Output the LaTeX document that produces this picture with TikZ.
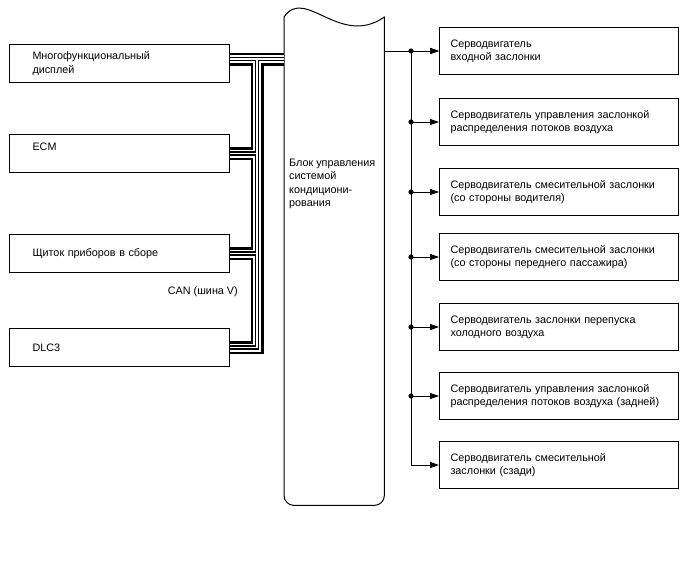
\documentclass[tikz,border=0pt]{standalone}
\usepackage{fontspec}
\setmainfont{Liberation Sans}
\usetikzlibrary{arrows.meta}

\begin{document}
\begin{tikzpicture}[x=1pt,y=-1pt,font=\fontsize{10.8}{13.3}\selectfont,line cap=round,
  unitbox/.style={draw,line width=1pt,rectangle,inner ysep=0pt,align=left,anchor=north west},
  leftbox/.style={unitbox,minimum height=38pt,inner xsep=23pt,text width=174pt},
  rightbox/.style={unitbox,minimum height=47pt,inner xsep=11pt,text width=217pt},
  conn/.style={line width=0.8pt,-{Triangle[length=9pt,width=6pt]}},
  cable/.style={draw=white,line width=1.6pt,line cap=butt,
    preaction={draw=black,line width=13pt,line cap=butt},
    preaction={draw=white,line width=8pt,line cap=butt},
    preaction={draw=black,line width=4.4pt,line cap=butt}}]
  \useasboundingbox (0,0) rectangle (688,560);
  % CAN nodes
  \node[leftbox] (mfd) at (9,44) {Многофункциональный\\дисплей};
  \node[leftbox] (ecm) at (9,134) {ECM\\~};
  \node[leftbox] (kombi) at (9,234) {Щиток приборов в сборе};
  \node[leftbox] (dlc) at (9,328) {DLC3};
  \node[anchor=east,inner sep=0pt] (canlbl) at (238,292) {CAN (шина V)};
  % air conditioning ECU
  \node[minimum width=100pt,minimum height=488pt,inner sep=0pt,anchor=north west] (ecu) at (284,17) {};
  \draw[line width=1pt,rounded corners=10pt] (ecu.north west) -- (ecu.south west) -- (ecu.south east) -- (ecu.north east);
  \draw[line width=1pt] (ecu.north west) .. controls (305,-14) and (340,48) .. (ecu.north east);
  \node[anchor=north west,align=left,inner sep=0pt] (ecutext) at (289,159)
    {Блок управления\\системой\\кондициони-\\рования};
  % bus lines
  \coordinate (bus) at (257,59);
  \draw[cable] (mfd.east |- bus) -- (ecu.west |- bus)
    (bus) -- (bus |- dlc.east) -- (dlc.east)
    (ecm.east) -- (ecm.east -| bus)
    (kombi.east) -- (kombi.east -| bus);
  % servo motors
  \node[rightbox] (r1) at (439,27) {Серводвигатель\\входной заслонки};
  \node[rightbox] (r2) at (439,98) {Серводвигатель управления заслонкой\\распределения потоков воздуха};
  \node[rightbox] (r3) at (439,168) {Серводвигатель смесительной заслонки\\(со стороны водителя)};
  \node[rightbox] (r4) at (439,233) {Серводвигатель смесительной заслонки\\(со стороны переднего пассажира)};
  \node[rightbox] (r5) at (439,303) {Серводвигатель заслонки перепуска\\холодного воздуха};
  \node[rightbox] (r6) at (439,372) {Серводвигатель управления заслонкой\\распределения потоков воздуха (задней)};
  \node[rightbox] (r7) at (439,441) {Серводвигатель смесительной\\заслонки (сзади)};
  \coordinate (split) at (411,0);
  \draw[conn] (ecu.east |- r1.west) -- (r1.west);
  \draw[conn] (split |- r1.west) -- (split |- r7.west) -- (r7.west);
  \foreach \i in {1,...,6} {
    \fill (split |- r\i.west) circle (2.6pt);
    \draw[conn] (split |- r\i.west) -- (r\i.west);
  }
\end{tikzpicture}
\end{document}
